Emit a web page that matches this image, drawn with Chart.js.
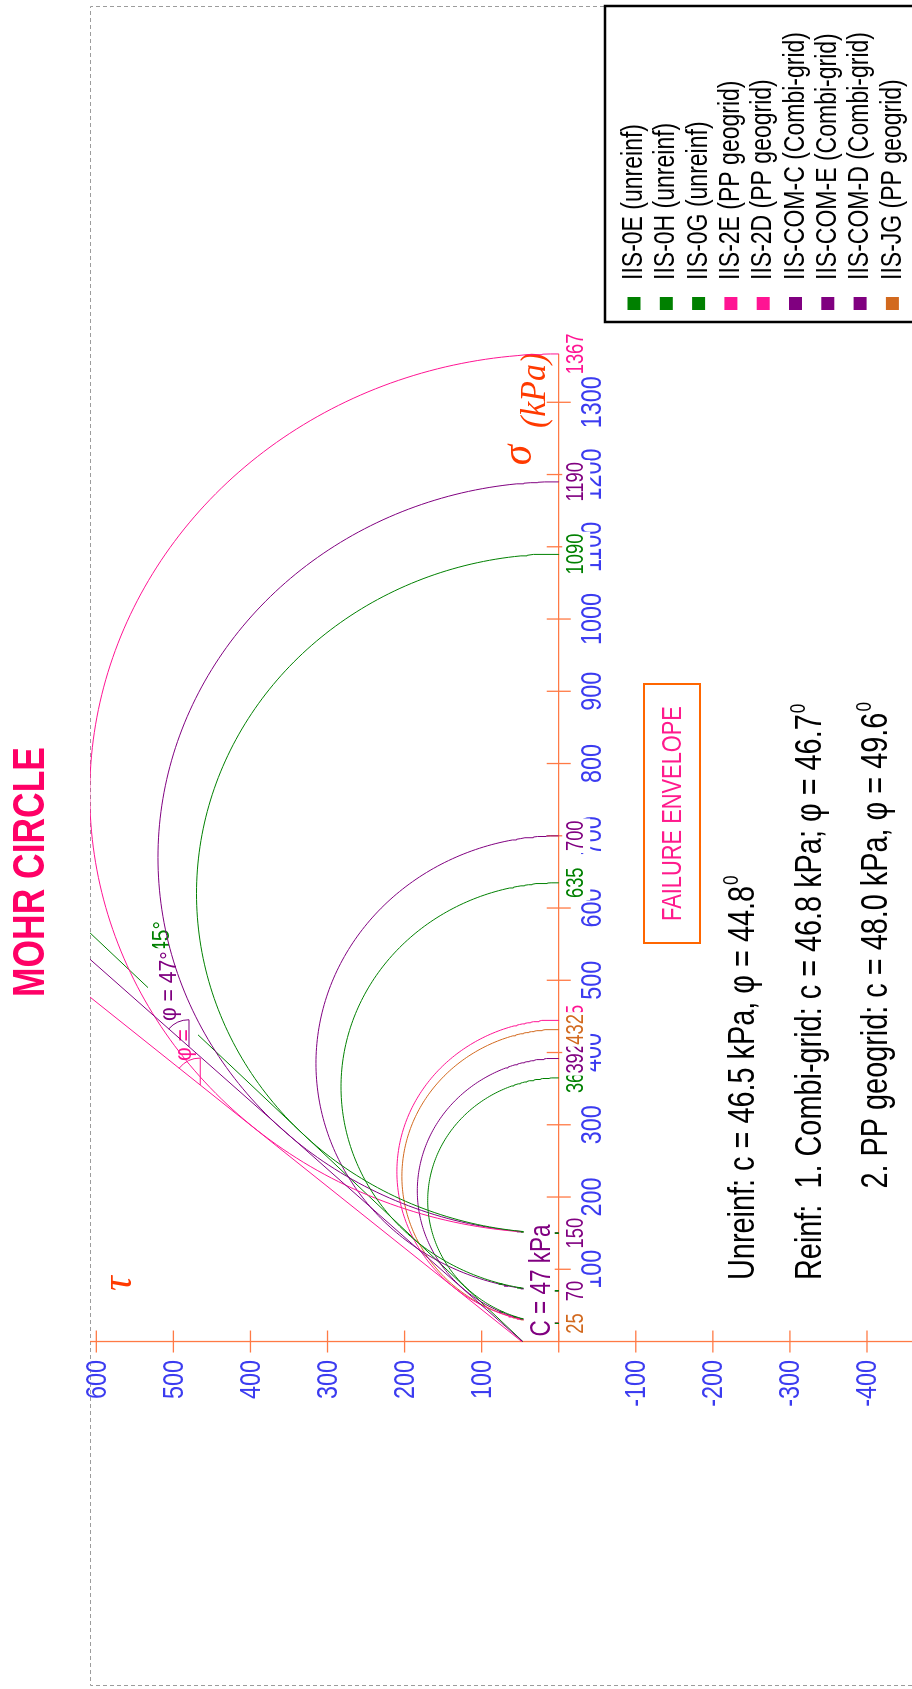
<!DOCTYPE html>
<html>
<head>
<meta charset="utf-8">
<title>Mohr circle</title>
<script src="https://cdn.jsdelivr.net/npm/chart.js@4.4.1/dist/chart.umd.min.js"></script>
<style>
  html, body { margin: 0; padding: 0; background: #fff; }
  #wrap { position: relative; width: 912px; height: 1689px; overflow: hidden; }
  /* the chart is laid out landscape and turned a quarter turn counter-clockwise */
  #mohr { position: absolute; left: 0; top: 0; transform-origin: 0 0;
          transform: translate(0, 1689px) rotate(-90deg); }
</style>
</head>
<body>
<div id="wrap"><canvas id="mohr" width="1689" height="912"></canvas></div>
<script>
// ---- Triaxial results: principal stresses at failure (kPa) ----
const specimens = ['IIS-0E (unreinf)', 'IIS-0H (unreinf)', 'IIS-0G (unreinf)',
                   'IIS-2E (PP geogrid)', 'IIS-2D (PP geogrid)',
                   'IIS-COM-C (Combi-grid)', 'IIS-COM-E (Combi-grid)', 'IIS-COM-D (Combi-grid)',
                   'IIS-JG (PP geogrid)'];
const sigma3 = [25, 70, 150, 25, 150, 25, 70, 150, 25];
const sigma1 = [365, 635, 1090, 445, 1367, 392, 700, 1190, 432];
const specimenColors = ['#008000', '#008000', '#008000', '#FF1493', '#FF1493',
                        '#800080', '#800080', '#800080', '#D2691E'];

// ---- Mohr-Coulomb failure envelopes ----
const envelopeNames = ['Unreinf', 'Combi-grid', 'PP geogrid'];
const cohesion = [46.5, 46.8, 48.0];          // kPa
const frictionAngle = [44.8, 46.7, 49.6];     // degrees
const envelopeColors = ['#008000', '#800080', '#FF1493'];
const angleLabels = ['φ = 45°', 'φ = 47°', 'φ = 50°'];
const angleMarkAt = [436, 408, 355];          // σ where the angle arc is drawn

// ---- Axis ticks ----
const sigmaTicks = [100, 200, 300, 400, 500, 600, 700, 800, 900, 1000, 1100, 1200, 1300];
const tauTicks = [600, 500, 400, 300, 200, 100, 0, -100, -200, -300, -400];

// ---- Styling ----
const SANS = '"Liberation Sans", Arial, sans-serif';
const SERIF = '"Liberation Serif", "Times New Roman", serif';
const SQ = 0.78;                 // narrow lettering
const AXIS = '#FF7A45';
const TICK_TEXT = '#3B3BF0';
const SYMBOL = '#FF3A00';

function rad(d) { return d * Math.PI / 180; }

// text drawn with horizontal squeeze; returns left x and width
function txt(ctx, s, x, y, font, color, align, baseline, sq) {
  ctx.font = font;
  const w = ctx.measureText(s).width * sq;
  const x0 = align === 'center' ? x - w / 2 : align === 'right' ? x - w : x;
  ctx.save();
  ctx.translate(x0, y);
  ctx.scale(sq, 1);
  ctx.textAlign = 'left';
  ctx.textBaseline = baseline;
  ctx.fillStyle = color;
  ctx.fillText(s, 0, 0);
  ctx.restore();
  return { x0, w };
}
function textWidth(ctx, s, font, sq) { ctx.font = font; return ctx.measureText(s).width * sq; }
function seg(ctx, x1, y1, x2, y2) { ctx.beginPath(); ctx.moveTo(x1, y1); ctx.lineTo(x2, y2); ctx.stroke(); }

// ---- Datasets ----
const datasets = [];
// upper half of every Mohr circle, from σ1 round to σ3
sigma3.forEach((s3, i) => {
  const c = (s3 + sigma1[i]) / 2, r = (sigma1[i] - s3) / 2;
  const pts = [];
  for (let a = 0; a <= 180; a += 1) pts.push({ x: c + r * Math.cos(rad(a)), y: r * Math.sin(rad(a)) });
  datasets.push({ label: specimens[i], data: pts, borderColor: specimenColors[i],
                  backgroundColor: specimenColors[i], borderWidth: 1, order: 10, role: 'circle' });
});
// envelopes τ = c + σ tanφ (clipped by the plot area)
const SIGMA_END = 900;
cohesion.forEach((c, k) => {
  datasets.push({ label: envelopeNames[k],
                  data: [{ x: 0, y: c }, { x: SIGMA_END, y: c + SIGMA_END * Math.tan(rad(frictionAngle[k])) }],
                  borderColor: envelopeColors[k], borderWidth: 1,
                  order: k === 0 ? 20 : 1, role: 'envelope', env: k });
});

// ---- Drawing of axes, labels and notes ----
function angleMark(chart, k) {
  const { ctx, scales: { x: xs, y: ys } } = chart;
  const t = Math.tan(rad(frictionAngle[k]));
  const s = angleMarkAt[k];
  const px = xs.getPixelForValue(s), py = ys.getPixelForValue(cohesion[k] + s * t);
  const qx = xs.getPixelForValue(s + 100), qy = ys.getPixelForValue(cohesion[k] + (s + 100) * t);
  const ang = Math.atan2(qy - py, qx - px);
  const R = 27;
  ctx.save();
  ctx.strokeStyle = envelopeColors[k];
  ctx.lineWidth = 1;
  seg(ctx, px, py, px + R, py);
  ctx.beginPath();
  ctx.arc(px, py, R, ang, 0);
  ctx.stroke();
  ctx.restore();
}

function angleTexts(chart) {
  const ctx = chart.ctx;
  const font = '23px ' + SANS;
  const sq = 0.92;
  // [index, left or right x, centre y, anchor, box top, box bottom]
  const spec = [
    [2, 628, 184.5, 'left', 166, 198],
    [0, 768, 163, 'right', 150, 176],
    [1, 668, 169.5, 'left', 148, 196]
  ];
  spec.forEach(([k, x, y, anchor, top, bot]) => {
    const w = textWidth(ctx, angleLabels[k], font, sq);
    const x0 = anchor === 'right' ? x - w : x;
    ctx.fillStyle = '#fff';
    ctx.fillRect(x0 - 3, top, w + 6, bot - top);
    txt(ctx, angleLabels[k], x0, y, font, envelopeColors[k], 'left', 'middle', sq);
  });
}

const mohrDecor = {
  id: 'mohrDecor',
  beforeDatasetsDraw(chart) {
    const { ctx, chartArea: a, scales: { x: xs, y: ys } } = chart;
    const u0 = xs.getPixelForValue(0), v0 = ys.getPixelForValue(0);
    ctx.save();
    // plot frame
    ctx.strokeStyle = '#9c9c9c';
    ctx.lineWidth = 1;
    ctx.setLineDash([4, 3]);
    ctx.beginPath();
    ctx.moveTo(a.left + 0.5, a.bottom);
    ctx.lineTo(a.left + 0.5, a.top + 0.5);
    ctx.lineTo(a.right - 0.5, a.top + 0.5);
    ctx.lineTo(a.right - 0.5, a.bottom);
    ctx.stroke();
    ctx.setLineDash([]);

    // τ axis through σ = 0, σ axis along τ = 0
    ctx.strokeStyle = AXIS;
    ctx.lineWidth = 1.3;
    seg(ctx, u0, a.top, u0, a.bottom);
    tauTicks.forEach(t => { const v = ys.getPixelForValue(t); seg(ctx, u0 - 11, v, u0 + 11, v); });
    const sMax = Math.max(...sigma1);
    seg(ctx, u0, v0, xs.getPixelForValue(sMax), v0);
    sigmaTicks.forEach(s => { const u = xs.getPixelForValue(s); seg(ctx, u, v0 - 12, u, v0 + 12); });

    // tick labels
    const tf = '30px ' + SANS;
    tauTicks.filter(t => t !== 0).forEach(t => {
      txt(ctx, String(t), u0 - 18.5, ys.getPixelForValue(t) + 1, tf, TICK_TEXT, 'right', 'middle', SQ);
    });
    sigmaTicks.forEach(s => {
      txt(ctx, String(s), xs.getPixelForValue(s), v0 + 34, tf, TICK_TEXT, 'center', 'middle', SQ);
    });

    // stress values at the ends of the circles
    const lf = '23.5px ' + SANS;
    const marks = [];
    const low = new Map();
    sigma3.forEach((s, i) => low.set(s, specimenColors[i]));
    low.forEach((col, s) => marks.push([s, col]));
    sigma1.forEach((s, i) => marks.push([s, specimenColors[i]]));
    marks.forEach(([s, col]) => {
      const u = xs.getPixelForValue(s);
      const w = textWidth(ctx, String(s), lf, SQ);
      ctx.fillStyle = '#fff';
      ctx.fillRect(u - w / 2 - 2, v0 + 3.5, w + 4, 28);
      txt(ctx, String(s), u, v0 + 18, lf, col, 'center', 'middle', SQ);
    });

    // axis symbols
    txt(ctx, 'σ', 1234, 531, 'italic 44px ' + SERIF, SYMBOL, 'center', 'alphabetic', 0.94);
    txt(ctx, '(kPa)', 1261, 545, 'italic 36px ' + SERIF, SYMBOL, 'left', 'alphabetic', 0.94);
    txt(ctx, 'τ', u0 + 58, 131, 'italic 44px ' + SERIF, SYMBOL, 'center', 'alphabetic', 0.94);
    ctx.restore();
  },
  afterDatasetDraw(chart, args) {
    const ds = chart.data.datasets[args.index];
    if (ds.role !== 'envelope') return;
    angleMark(chart, ds.env);
    if (ds.env === 0) angleTexts(chart);
  },
  afterDatasetsDraw(chart) {
    const { ctx, scales: { x: xs, y: ys } } = chart;
    const u0 = xs.getPixelForValue(0), v0 = ys.getPixelForValue(0);
    ctx.save();

    // cohesion note next to the origin
    ctx.fillStyle = '#fff';
    ctx.fillRect(u0 + 3, v0 - 35, 116, 31);
    txt(ctx, 'C = 47 kPa', u0 + 61, v0 - 9, '30px ' + SANS, '#800080', 'center', 'alphabetic', 0.75);

    // envelope parameters
    const nf = '37px ' + SANS;
    const sup = '22px ' + SANS;
    const lines = [
      ['Unreinf: c = ' + cohesion[0].toFixed(1) + ' kPa, φ = ' + frictionAngle[0].toFixed(1), 409, 754],
      ['Reinf:  1. Combi-grid: c = ' + cohesion[1].toFixed(1) + ' kPa; φ = ' + frictionAngle[1].toFixed(1), 409, 820.5],
      ['2. PP geogrid: c = ' + cohesion[2].toFixed(1) + ' kPa, φ = ' + frictionAngle[2].toFixed(1),
        409 + textWidth(ctx, 'Reinf:  ', nf, SQ), 887]
    ];
    lines.forEach(([s, x, y]) => {
      const r = txt(ctx, s, x, y, nf, '#000', 'left', 'alphabetic', SQ);
      txt(ctx, '0', r.x0 + r.w + 1, y - 16, sup, '#000', 'left', 'alphabetic', SQ);
    });

    // failure envelope tag
    ctx.fillStyle = '#fff';
    ctx.fillRect(746, 644, 259, 56);
    ctx.strokeStyle = '#FF6600';
    ctx.lineWidth = 2;
    ctx.strokeRect(746, 644, 259, 56);
    txt(ctx, 'FAILURE ENVELOPE', 875.5, 680.5, '28px ' + SANS, '#FF1A8C', 'center', 'alphabetic', SQ);

    // title
    txt(ctx, 'MOHR CIRCLE', 817, 43.6, 'bold 45px ' + SANS, '#FF0066', 'center', 'alphabetic', 0.787);

    // legend
    ctx.fillStyle = '#fff';
    ctx.fillRect(1367, 605, 316, 310);
    ctx.strokeStyle = '#000';
    ctx.lineWidth = 2.5;
    ctx.strokeRect(1367, 605, 316, 310);
    const lgf = '29.5px ' + SANS;
    specimens.forEach((name, i) => {
      const v = 634 + 32.3 * i;
      ctx.fillStyle = specimenColors[i];
      ctx.fillRect(1379, v - 6.5, 13, 13);
      txt(ctx, name, 1409, v, lgf, '#000', 'left', 'middle', SQ);
    });
    ctx.restore();
  }
};

new Chart(document.getElementById('mohr'), {
  type: 'scatter',
  data: { datasets: datasets.map(d => Object.assign({ showLine: true, pointRadius: 0, tension: 0, fill: false }, d)) },
  options: {
    responsive: false,
    animation: false,
    devicePixelRatio: 1,
    events: [],
    layout: { padding: { left: 3, right: 6, top: 90, bottom: 0 } },
    scales: {
      x: { type: 'linear', display: false, min: -476.8, max: 1848.5 },
      y: { type: 'linear', display: false, min: -458.4, max: 608.2 }
    },
    plugins: { legend: { display: false }, tooltip: { enabled: false }, title: { display: false } }
  },
  plugins: [mohrDecor]
});
</script>
</body>
</html>
